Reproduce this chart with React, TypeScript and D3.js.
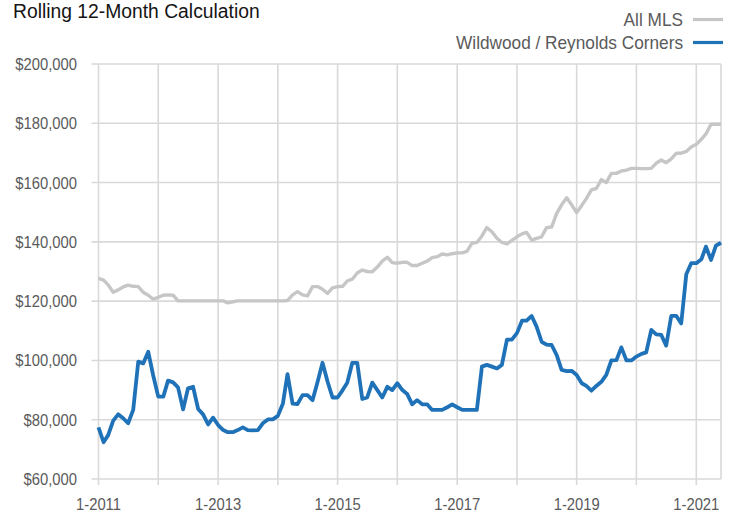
import * as d3 from "d3";

// monthly median values, in $ thousands, Jan 2011 .. Jun 2021
const allMls = [
  127.7, 127.1, 125.5, 123.0, 123.8, 124.8, 125.4, 125.0, 124.9, 123.0,
  122.0, 120.7, 121.3, 122.0, 122.1, 122.0, 120.1, 120.1, 120.1, 120.1,
  120.1, 120.1, 120.1, 120.1, 120.1, 120.1, 119.4, 119.8, 120.1, 120.1,
  120.1, 120.1, 120.1, 120.1, 120.1, 120.1, 120.1, 120.1, 120.2, 122.1,
  123.2, 122.1, 121.8, 124.9, 124.9, 124.0, 122.6, 124.5, 124.9, 125.0,
  126.8, 127.4, 129.5, 130.5, 130.0, 129.9, 131.5, 133.5, 134.8, 133.0,
  132.8, 133.1, 133.1, 132.0, 132.0, 132.8, 133.5, 134.7, 135.0, 135.9,
  135.6, 136.0, 136.3, 136.3, 136.8, 139.5, 139.8, 142.0, 144.8, 143.4,
  141.2, 139.8, 139.3, 140.5, 141.7, 142.7, 143.2, 140.6, 141.2, 141.7,
  144.8, 145.0, 149.6, 152.5, 154.9, 152.5, 149.9, 152.3, 154.6, 157.5,
  158.0, 161.0, 160.0, 163.1, 163.1, 163.9, 164.2, 164.8, 164.8, 164.7,
  164.7, 164.8, 166.5, 167.6, 166.7, 168.0, 169.9, 169.9, 170.5, 172.0,
  172.9, 174.6, 176.4, 179.7, 179.7, 179.7,
];

const wildwood = [
  77.4, 72.4, 74.8, 79.7, 81.8, 80.5, 78.8, 83.3, 99.6, 99.0,
  102.9, 95.0, 87.8, 87.8, 93.2, 92.6, 90.9, 83.5, 90.6, 91.1,
  83.6, 81.8, 78.4, 80.7, 78.2, 76.5, 75.8, 75.8, 76.5, 77.4,
  76.5, 76.4, 76.5, 78.8, 80.1, 80.1, 81.3, 85.5, 95.4, 85.4,
  85.3, 88.3, 88.3, 86.6, 92.8, 99.2, 92.8, 87.5, 87.5, 90.0,
  92.5, 99.2, 99.2, 87.0, 87.5, 92.5, 90.0, 87.5, 91.1, 90.0,
  92.3, 90.0, 88.7, 85.2, 86.6, 85.2, 85.2, 83.3, 83.3, 83.3,
  84.2, 85.2, 84.2, 83.3, 83.3, 83.3, 83.3, 97.9, 98.5, 97.9,
  97.3, 98.5, 107.0, 107.0, 109.2, 113.4, 113.4, 115.0, 111.4, 106.3,
  105.3, 105.2, 101.8, 96.8, 96.4, 96.5, 95.1, 92.3, 91.4, 89.8,
  91.4, 92.8, 95.1, 100.0, 100.1, 104.4, 100.0, 100.0, 101.3, 102.2,
  102.7, 110.3, 108.8, 108.6, 105.0, 115.0, 115.0, 112.5, 129.1, 132.8,
  132.8, 134.1, 138.4, 133.9, 138.7, 139.7,
];

const yTicks = [60, 80, 100, 120, 140, 160, 180, 200];
const labelYears = [2011, 2013, 2015, 2017, 2019, 2021];

const series = [
  { name: "All MLS", values: allMls, color: "#c6c6c6", width: 3.4 },
  { name: "Wildwood / Reynolds Corners", values: wildwood, color: "#1f72b8", width: 3.8 },
];

const months = d3.timeMonth.range(new Date(2011, 0, 1), new Date(2021, 6, 1));

const font = "'Liberation Sans', Arial, sans-serif";
const labelColor = "#5a5a5a";

// axis labels in the original are set in a condensed face
function NarrowText({ x, y, anchor, size, sx, fill, children }: any) {
  return (
    <text
      transform={`translate(${x},${y}) scale(${sx},1)`}
      fontSize={size}
      fill={fill}
      textAnchor={anchor}
    >
      {children}
    </text>
  );
}

export default function App() {
  const width = 733;
  const height = 514;
  const margin = { top: 64, right: 12, bottom: 35, left: 98.5 };

  const x = d3
    .scaleTime()
    .domain([months[0], months[months.length - 1]])
    .range([margin.left, width - margin.right]);

  const y = d3
    .scaleLinear()
    .domain([60, 200])
    .range([height - margin.bottom, margin.top]);

  const years = d3.timeYear.range(new Date(2011, 0, 1), new Date(2021, 1, 1));
  const fmt = d3.format("$,");

  const line = d3
    .line<number>()
    .x((_, i) => x(months[i]))
    .y((d) => y(d));

  const x0 = x.range()[0];
  const x1 = x.range()[1];
  const yb = y(60);
  const grid = "#d9d9d9";

  return (
    <svg
      width={width}
      height={height}
      style={{ position: "absolute", left: 0, top: 0, background: "#fff" }}
      fontFamily={font}
    >
      <NarrowText x={13} y={17.5} size={19.6} sx={0.985} fill="#141414" anchor="start">
        Rolling 12-Month Calculation
      </NarrowText>

      {/* legend */}
      {series.map((s, i) => (
        <g key={s.name}>
          <NarrowText x={683} y={25.5 + i * 23} size={17.6} sx={0.98} fill={labelColor} anchor="end">
            {s.name}
          </NarrowText>
          <line
            x1={693}
            x2={723}
            y1={19.5 + i * 23}
            y2={19.5 + i * 23}
            stroke={s.color}
            strokeWidth={3.2}
          />
        </g>
      ))}

      {/* horizontal grid + y labels */}
      {yTicks.map((t) => (
        <g key={t}>
          <line x1={x0 - 7} x2={x1} y1={y(t)} y2={y(t)} stroke={grid} strokeWidth={1.6} />
          <NarrowText x={77} y={y(t) + 6} size={17} sx={0.87} fill={labelColor} anchor="end">
            {fmt(t * 1000)}
          </NarrowText>
        </g>
      ))}

      {/* vertical grid */}
      {years.map((d) => (
        <line
          key={+d}
          x1={x(d)}
          x2={x(d)}
          y1={y(200)}
          y2={yb + 6}
          stroke={grid}
          strokeWidth={1.6}
        />
      ))}
      <line x1={x1} x2={x1} y1={y(200)} y2={yb} stroke={grid} strokeWidth={1.6} />

      {labelYears.map((yr) => (
        <NarrowText
          key={yr}
          x={x(new Date(yr, 0, 1))}
          y={510}
          size={17}
          sx={0.87}
          fill={labelColor}
          anchor="middle"
        >
          {`1-${yr}`}
        </NarrowText>
      ))}

      {series.map((s) => (
        <path
          key={s.name}
          d={line(s.values) ?? ""}
          fill="none"
          stroke={s.color}
          strokeWidth={s.width}
          strokeLinejoin="round"
        />
      ))}
    </svg>
  );
}
